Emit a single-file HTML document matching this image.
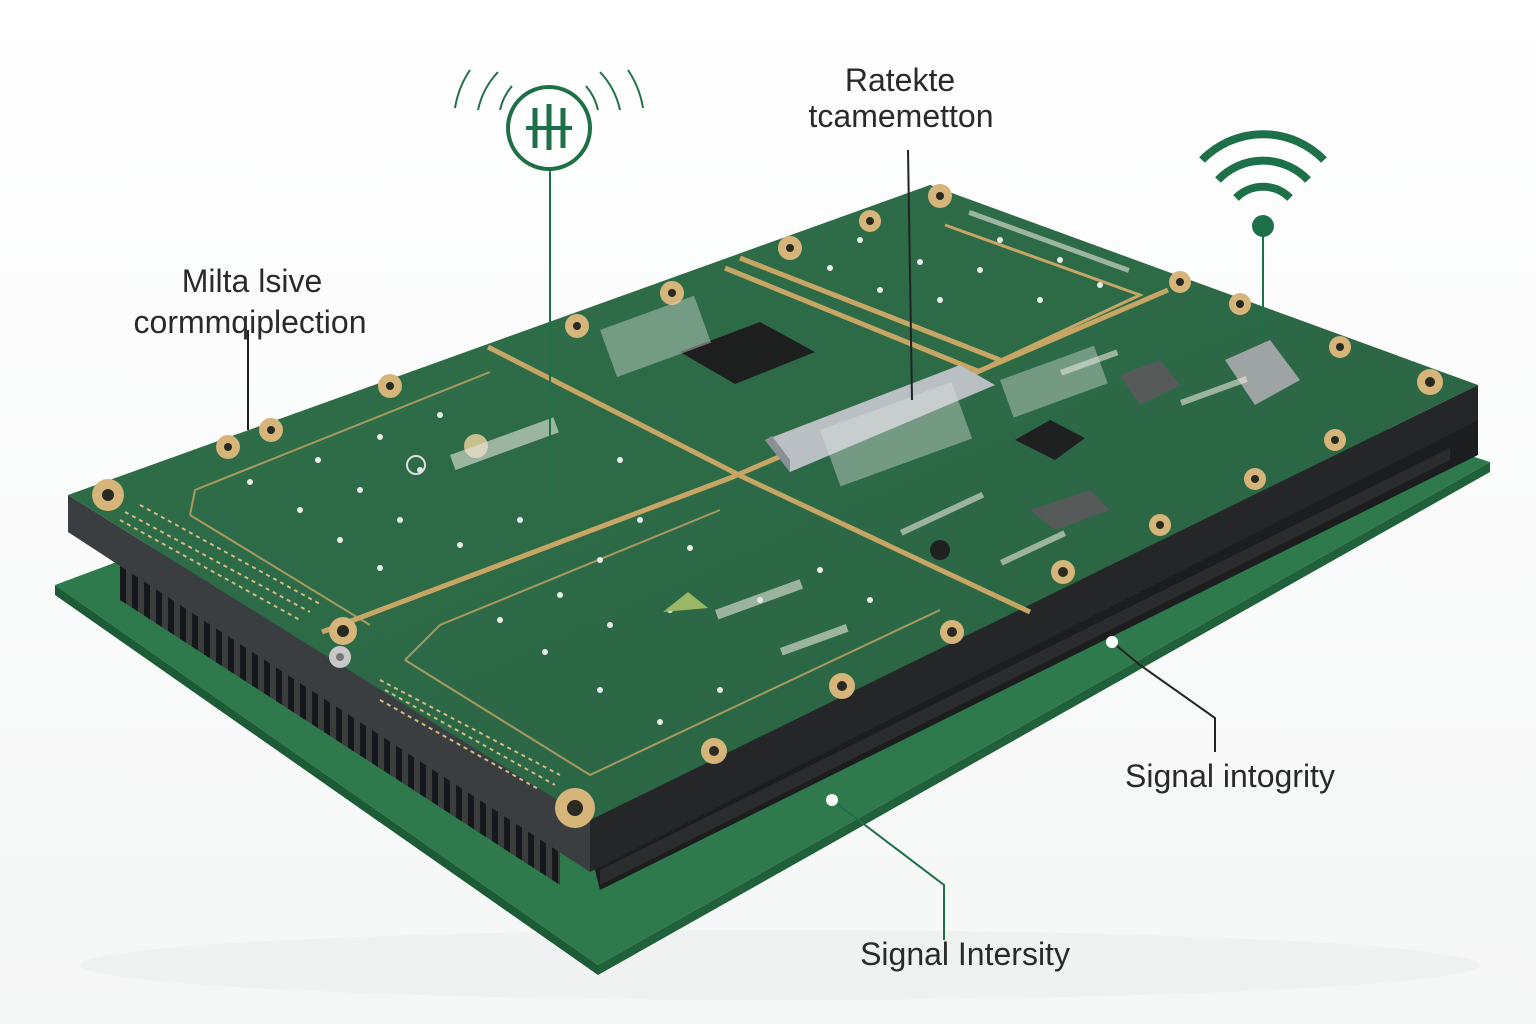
<!DOCTYPE html>
<html><head><meta charset="utf-8"><style>
html,body{margin:0;padding:0;background:#fff}
svg{display:block}
text{font-family:"Liberation Sans","DejaVu Sans",sans-serif;fill:#2a2a2a}
</style></head><body>
<svg width="1536" height="1024" viewBox="0 0 1536 1024" xmlns="http://www.w3.org/2000/svg">
<defs>
<linearGradient id="bg" x1="0" y1="0" x2="0" y2="1"><stop offset="0" stop-color="#ffffff"/><stop offset="1" stop-color="#f5f6f6"/></linearGradient>
<linearGradient id="top" x1="0" y1="0" x2="1" y2="1"><stop offset="0" stop-color="#2f6f4a"/><stop offset="1" stop-color="#2a6342"/></linearGradient>
<pattern id="fins" width="12" height="10" patternUnits="userSpaceOnUse"><rect width="12" height="10" fill="#3a3d3c"/><rect x="0" width="6" height="10" fill="#15181a"/></pattern>
</defs>
<rect width="1536" height="1024" fill="url(#bg)"/>
<ellipse cx="780" cy="965" rx="700" ry="35" fill="#f0f1f1"/>
<!-- bottom board -->
<polygon points="55,585 900,270 1490,462 598,965" fill="#2e7a4c"/>
<polygon points="55,585 598,965 598,975 55,595" fill="#1d5a36"/>
<polygon points="598,965 1490,462 1490,472 598,975" fill="#20603a"/>
<!-- fins and foam -->
<polygon points="120,555 560,840 560,885 120,600" fill="url(#fins)"/>
<polygon points="590,850 1478,410 1478,455 600,890" fill="#1b1d1e"/>
<polygon points="600,870 1450,448 1450,460 600,885" fill="#2a2c2d"/>
<!-- top board edge -->
<polygon points="68,495 590,820 590,872 68,532" fill="#3b3e40"/>
<polygon points="590,820 1478,385 1478,420 590,872" fill="#242628"/>
<!-- top surface -->
<polygon points="68,495 930,185 1478,385 590,820" fill="url(#top)"/>
<!-- gold traces -->
<g stroke="#c7a665" stroke-width="5" fill="none">
<polyline points="488,347 745,478 1030,612"/>
<polyline points="322,632 730,478 1168,290"/>
<polyline points="725,268 980,372"/>
<polyline points="740,258 1000,360"/>
<polyline points="945,225 1140,295 990,365" stroke-width="3"/>
</g>
<g stroke="#c7a665" stroke-width="2" fill="none" opacity="0.8">
<polyline points="190,515 195,490 490,372"/>
<polyline points="190,515 370,625"/>
<polyline points="405,660 440,625 720,510"/>
<polyline points="405,660 590,775 940,610"/>
</g>
<!-- mounting pads -->
<g fill="#d6b57a">
<circle cx="108" cy="495" r="16"/><circle cx="228" cy="447" r="12"/><circle cx="271" cy="430" r="12"/><circle cx="390" cy="386" r="12"/><circle cx="577" cy="326" r="12"/><circle cx="672" cy="293" r="12"/><circle cx="790" cy="248" r="12"/><circle cx="870" cy="221" r="11"/><circle cx="940" cy="196" r="12"/>
<circle cx="1180" cy="282" r="11"/><circle cx="1240" cy="304" r="11"/><circle cx="1340" cy="347" r="11"/><circle cx="1430" cy="382" r="13"/><circle cx="1335" cy="440" r="11"/><circle cx="1255" cy="479" r="11"/><circle cx="1160" cy="525" r="11"/><circle cx="1063" cy="572" r="12"/><circle cx="952" cy="632" r="12"/><circle cx="842" cy="686" r="13"/><circle cx="714" cy="751" r="13"/><circle cx="575" cy="808" r="20"/><circle cx="343" cy="631" r="14"/>
</g>
<g fill="#2a2a22">
<circle cx="108" cy="495" r="6"/><circle cx="575" cy="808" r="8"/><circle cx="343" cy="631" r="6"/><circle cx="1430" cy="382" r="5"/>
<circle cx="228" cy="447" r="4"/><circle cx="271" cy="430" r="4"/><circle cx="390" cy="386" r="4"/><circle cx="577" cy="326" r="4"/><circle cx="672" cy="293" r="4"/><circle cx="790" cy="248" r="4"/><circle cx="940" cy="196" r="4"/><circle cx="842" cy="686" r="5"/><circle cx="714" cy="751" r="5"/><circle cx="952" cy="632" r="5"/><circle cx="1063" cy="572" r="5"/><circle cx="1160" cy="525" r="4"/><circle cx="1255" cy="479" r="4"/><circle cx="1335" cy="440" r="4"/><circle cx="1340" cy="347" r="4"/><circle cx="1240" cy="304" r="4"/><circle cx="1180" cy="282" r="4"/><circle cx="870" cy="221" r="4"/>
</g>
<circle cx="340" cy="657" r="11" fill="#c8c8c8"/><circle cx="340" cy="657" r="4" fill="#777"/>
<g fill="none" stroke="#d6ba80" stroke-width="2" stroke-dasharray="4 4">
<line x1="120" y1="520" x2="300" y2="620"/><line x1="125" y1="512" x2="310" y2="612"/><line x1="140" y1="505" x2="320" y2="604"/>
<line x1="380" y1="680" x2="560" y2="775"/><line x1="385" y1="690" x2="555" y2="785"/><line x1="380" y1="700" x2="540" y2="790"/>
</g>
<!-- white vias -->
<g fill="#e8ece8">
<circle cx="318" cy="460" r="3"/><circle cx="380" cy="437" r="3"/><circle cx="440" cy="415" r="3"/><circle cx="250" cy="482" r="3"/><circle cx="300" cy="510" r="3"/><circle cx="360" cy="490" r="3"/><circle cx="420" cy="470" r="3"/><circle cx="340" cy="540" r="3"/><circle cx="400" cy="520" r="3"/><circle cx="380" cy="568" r="3"/><circle cx="460" cy="545" r="3"/><circle cx="520" cy="520" r="3"/><circle cx="600" cy="560" r="3"/><circle cx="640" cy="520" r="3"/><circle cx="690" cy="548" r="3"/><circle cx="560" cy="595" r="3"/><circle cx="500" cy="620" r="3"/><circle cx="610" cy="625" r="3"/><circle cx="545" cy="652" r="3"/><circle cx="670" cy="610" r="3"/><circle cx="600" cy="690" r="3"/><circle cx="660" cy="722" r="3"/><circle cx="720" cy="690" r="3"/><circle cx="760" cy="600" r="3"/><circle cx="820" cy="570" r="3"/><circle cx="870" cy="600" r="3"/><circle cx="620" cy="460" r="3"/>
<circle cx="860" cy="240" r="3"/><circle cx="920" cy="262" r="3"/><circle cx="980" cy="270" r="3"/><circle cx="1000" cy="240" r="3"/><circle cx="1040" cy="300" r="3"/><circle cx="1060" cy="260" r="3"/><circle cx="880" cy="290" r="3"/><circle cx="940" cy="300" r="3"/><circle cx="1100" cy="285" r="3"/><circle cx="830" cy="268" r="3"/>
</g>
<!-- components -->
<polygon points="680,352 760,322 815,352 735,384" fill="#1d1f1e"/>
<polygon points="765,440 960,365 995,385 790,472" fill="#b9bfc2"/>
<polygon points="765,440 790,472 790,460 772,436" fill="#8a9094"/>
<polygon points="1015,440 1050,420 1085,438 1055,460" fill="#1f2120"/>
<polygon points="1120,375 1160,360 1180,385 1140,405" fill="#555a58"/>
<polygon points="1225,360 1270,340 1300,380 1255,405" fill="#9ea4a4"/>
<polygon points="1030,510 1090,490 1110,510 1055,530" fill="#555a58"/>
<circle cx="940" cy="550" r="10" fill="#1f2120"/>
<polygon points="663,612 688,592 708,608" fill="#9bb866"/>
<circle cx="476" cy="446" r="12" fill="#c8bf8f"/><circle cx="416" cy="465" r="9" fill="none" stroke="#ddd" stroke-width="2"/>
<g fill="#e6e6dc" opacity="0.6">
<rect x="450" y="455" width="110" height="16" transform="rotate(-20 450 455)"/>
<rect x="715" y="610" width="90" height="10" transform="rotate(-20 715 610)"/>
<rect x="780" y="648" width="70" height="8" transform="rotate(-20 780 648)"/>
<rect x="970" y="210" width="170" height="5" transform="rotate(20 970 210)"/>
<rect x="1060" y="370" width="60" height="6" transform="rotate(-20 1060 370)"/>
<rect x="1180" y="400" width="70" height="6" transform="rotate(-20 1180 400)"/>
<rect x="900" y="530" width="90" height="6" transform="rotate(-25 900 530)"/>
<rect x="1000" y="560" width="70" height="6" transform="rotate(-25 1000 560)"/>
</g>
<g fill="#dfe3df" opacity="0.4">
<rect x="600" y="330" width="100" height="50" transform="rotate(-20 600 330)"/>
<rect x="820" y="430" width="140" height="60" transform="rotate(-20 820 430)"/>
<rect x="1000" y="380" width="100" height="40" transform="rotate(-20 1000 380)"/>
</g>
<!-- icons -->
<g stroke="#1e7048" fill="none" stroke-width="4">
<circle cx="549" cy="128" r="41"/>
<path d="M470,70 A95,95 0 0 0 455,108" stroke-width="2"/>
<path d="M628,70 A95,95 0 0 1 643,108" stroke-width="2"/>
<path d="M498,72 A80,80 0 0 0 478,110" stroke-width="2"/>
<path d="M600,72 A80,80 0 0 1 620,110" stroke-width="2"/>
<path d="M512,86 A55,55 0 0 0 500,110" stroke-width="2"/>
<path d="M586,86 A55,55 0 0 1 598,110" stroke-width="2"/>
<line x1="535" y1="108" x2="535" y2="148" stroke-width="5"/><line x1="549" y1="104" x2="549" y2="150" stroke-width="5"/><line x1="563" y1="108" x2="563" y2="148" stroke-width="5"/>
<line x1="526" y1="128" x2="572" y2="128" stroke-width="4"/>
<path d="M1202,160 A85,85 0 0 1 1324,160" stroke-width="8"/>
<path d="M1218,180 A62,62 0 0 1 1308,180" stroke-width="8"/>
<path d="M1236,198 A38,38 0 0 1 1290,198" stroke-width="8"/>
</g>
<circle cx="1263" cy="226" r="11" fill="#1e7048"/>
<g stroke="#1e7048" stroke-width="2" fill="none">
<line x1="550" y1="170" x2="550" y2="495"/>
<line x1="1263" y1="236" x2="1263" y2="340"/>
<polyline points="944,940 944,885 832,800"/>
</g>
<g stroke="#222" stroke-width="2" fill="none">
<line x1="908" y1="150" x2="912" y2="400"/>
<line x1="248" y1="330" x2="248" y2="430"/>
<polyline points="1215,752 1215,718 1140,665 1112,642"/>
</g>
<circle cx="1112" cy="642" r="6" fill="#fff"/>
<circle cx="832" cy="800" r="6" fill="#fff"/>
<g font-size="32" text-anchor="middle">
<text x="900" y="91">Ratekte</text>
<text x="901" y="127">tcamemetton</text>
<text x="252" y="292">Milta lsive</text>
<text x="250" y="333">cormmqiplection</text>
<text x="1230" y="787">Signal intogrity</text>
<text x="965" y="965">Signal Intersity</text>
</g>
</svg>
</body></html>
